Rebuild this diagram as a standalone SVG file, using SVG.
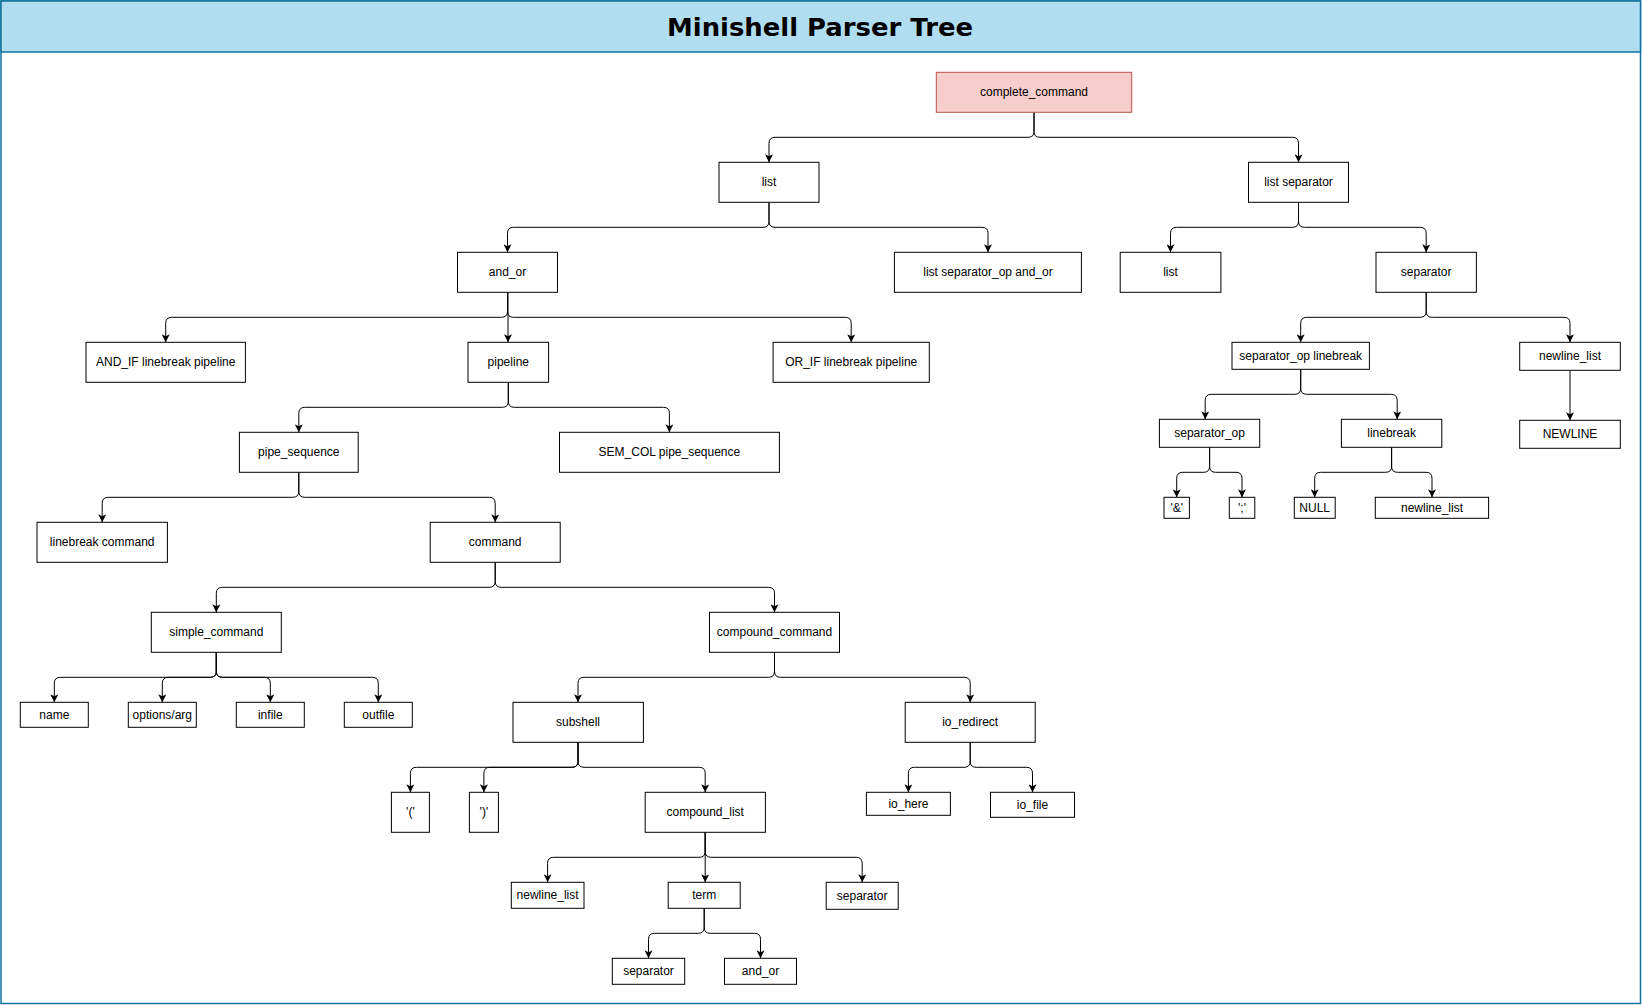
<svg xmlns="http://www.w3.org/2000/svg" width="1642" height="1005" viewBox="0 0 1642 1005">
<style>
.n rect{fill:#fff;stroke:#000;stroke-width:1}
.n text{font-family:"Liberation Sans",Arial,Helvetica,sans-serif;font-size:12px;fill:#000;text-anchor:middle}
#edges path{fill:none;stroke:#000;stroke-width:1;marker-end:url(#arr)}
</style>
<defs>
<marker id="arr" markerWidth="8" markerHeight="8" refX="8" refY="4" orient="auto" markerUnits="userSpaceOnUse">
<path d="M0,0 L8,4 L0,8 L2,4 Z" fill="#000"/>
</marker>
</defs>
<rect x="0" y="0" width="1642" height="1005" fill="#fff"/>
<g id="frame">
<rect x="1" y="1" width="1639.5" height="1002.5" fill="#fff" stroke="#10739e" stroke-width="1.5"/>
<rect x="1" y="1" width="1639.5" height="51" fill="#b1ddf0" stroke="#10739e" stroke-width="1.5"/>
<text x="820" y="36.3" font-family="'DejaVu Sans',Verdana,sans-serif" font-weight="bold" font-size="24" text-anchor="middle" textLength="306" lengthAdjust="spacingAndGlyphs" fill="#000">Minishell Parser Tree</text>
</g>
<g id="edges">
<path d="M1034 112.3 V131.3 Q1034 137.3 1028 137.3 H775 Q769 137.3 769 143.3 V162.3"/>
<path d="M1034 112.3 V131.3 Q1034 137.3 1040 137.3 H1292.5 Q1298.5 137.3 1298.5 143.3 V162.3"/>
<path d="M769 202.3 V221.3 Q769 227.3 763 227.3 H513.5 Q507.5 227.3 507.5 233.3 V252.3"/>
<path d="M769 202.3 V221.3 Q769 227.3 775 227.3 H982 Q988 227.3 988 233.3 V252.3"/>
<path d="M1298.5 202.3 V221.3 Q1298.5 227.3 1292.5 227.3 H1176.5 Q1170.5 227.3 1170.5 233.3 V252.3"/>
<path d="M1298.5 202.3 V221.3 Q1298.5 227.3 1304.5 227.3 H1420.2 Q1426.2 227.3 1426.2 233.3 V252.3"/>
<path d="M507.5 292.3 V311.3 Q507.5 317.3 501.5 317.3 H171.7 Q165.7 317.3 165.7 323.3 V342.3"/>
<path d="M508 292.3 V342.3"/>
<path d="M507.5 292.3 V311.3 Q507.5 317.3 513.5 317.3 H845.2 Q851.2 317.3 851.2 323.3 V342.3"/>
<path d="M1426.2 292.3 V311.3 Q1426.2 317.3 1420.2 317.3 H1306.7 Q1300.7 317.3 1300.7 323.3 V342.3"/>
<path d="M1426.2 292.3 V311.3 Q1426.2 317.3 1432.2 317.3 H1564 Q1570 317.3 1570 323.3 V342.3"/>
<path d="M508.3 382.3 V401.3 Q508.3 407.3 502.3 407.3 H304.8 Q298.8 407.3 298.8 413.3 V432.3"/>
<path d="M508.3 382.3 V401.3 Q508.3 407.3 514.3 407.3 H663.4 Q669.4 407.3 669.4 413.3 V432.3"/>
<path d="M1300.7 369.3 V388.3 Q1300.7 394.3 1294.7 394.3 H1211.2 Q1205.2 394.3 1205.2 400.3 V419.3"/>
<path d="M1300.7 369.3 V388.3 Q1300.7 394.3 1306.7 394.3 H1391.2 Q1397.2 394.3 1397.2 400.3 V419.3"/>
<path d="M1570 370.3 V420.3"/>
<path d="M298.8 472.3 V491.3 Q298.8 497.3 292.8 497.3 H108.2 Q102.2 497.3 102.2 503.3 V522.3"/>
<path d="M298.8 472.3 V491.3 Q298.8 497.3 304.8 497.3 H489.2 Q495.2 497.3 495.2 503.3 V522.3"/>
<path d="M1209.6 447.3 V466.3 Q1209.6 472.3 1203.6 472.3 H1182.7 Q1176.7 472.3 1176.7 478.3 V497.3"/>
<path d="M1209.6 447.3 V466.3 Q1209.6 472.3 1215.6 472.3 H1236 Q1242 472.3 1242 478.3 V497.3"/>
<path d="M1391.6 447.3 V466.3 Q1391.6 472.3 1385.6 472.3 H1320.7 Q1314.7 472.3 1314.7 478.3 V497.3"/>
<path d="M1391.6 447.3 V466.3 Q1391.6 472.3 1397.6 472.3 H1426 Q1432 472.3 1432 478.3 V497.3"/>
<path d="M495.2 562.3 V581.3 Q495.2 587.3 489.2 587.3 H222.3 Q216.3 587.3 216.3 593.3 V612.3"/>
<path d="M495.2 562.3 V581.3 Q495.2 587.3 501.2 587.3 H768.5 Q774.5 587.3 774.5 593.3 V612.3"/>
<path d="M216.3 652.3 V671.3 Q216.3 677.3 210.3 677.3 H60.3 Q54.3 677.3 54.3 683.3 V702.3"/>
<path d="M216.3 652.3 V671.3 Q216.3 677.3 210.3 677.3 H168.3 Q162.3 677.3 162.3 683.3 V702.3"/>
<path d="M216.3 652.3 V671.3 Q216.3 677.3 222.3 677.3 H264.3 Q270.3 677.3 270.3 683.3 V702.3"/>
<path d="M216.3 652.3 V671.3 Q216.3 677.3 222.3 677.3 H372.3 Q378.3 677.3 378.3 683.3 V702.3"/>
<path d="M774.5 652.3 V671.3 Q774.5 677.3 768.5 677.3 H584 Q578 677.3 578 683.3 V702.3"/>
<path d="M774.5 652.3 V671.3 Q774.5 677.3 780.5 677.3 H964.2 Q970.2 677.3 970.2 683.3 V702.3"/>
<path d="M578 742.3 V761.3 Q578 767.3 572 767.3 H416.4 Q410.4 767.3 410.4 773.3 V792.3"/>
<path d="M578 742.3 V761.3 Q578 767.3 572 767.3 H489.9 Q483.9 767.3 483.9 773.3 V792.3"/>
<path d="M578 742.3 V761.3 Q578 767.3 584 767.3 H699.2 Q705.2 767.3 705.2 773.3 V792.3"/>
<path d="M970.2 742.3 V761.3 Q970.2 767.3 964.2 767.3 H914.4 Q908.4 767.3 908.4 773.3 V792.3"/>
<path d="M970.2 742.3 V761.3 Q970.2 767.3 976.2 767.3 H1026.5 Q1032.5 767.3 1032.5 773.3 V792.3"/>
<path d="M705.2 832.3 V851.3 Q705.2 857.3 699.2 857.3 H553.6 Q547.6 857.3 547.6 863.3 V882.3"/>
<path d="M705.2 832.3 V882.3"/>
<path d="M705.2 832.3 V851.3 Q705.2 857.3 711.2 857.3 H856.2 Q862.2 857.3 862.2 863.3 V882.3"/>
<path d="M704.2 908.3 V927.3 Q704.2 933.3 698.2 933.3 H654.5 Q648.5 933.3 648.5 939.3 V958.3"/>
<path d="M704.2 908.3 V927.3 Q704.2 933.3 710.2 933.3 H754.5 Q760.5 933.3 760.5 939.3 V958.3"/>
</g>
<g id="complete_command" class="n"><rect x="936.3" y="72.3" width="195.4" height="40" style="fill:#f8cecc;stroke:#b85450"/><text x="1034" y="96.3">complete_command</text></g>
<g id="list" class="n"><rect x="719" y="162.3" width="100" height="40"/><text x="769" y="186.3">list</text></g>
<g id="list_separator" class="n"><rect x="1248.5" y="162.3" width="100" height="40"/><text x="1298.5" y="186.3">list separator</text></g>
<g id="and_or" class="n"><rect x="457.5" y="252.3" width="100" height="40"/><text x="507.5" y="276.3">and_or</text></g>
<g id="list_sepop_andor" class="n"><rect x="894.4" y="252.3" width="187" height="40"/><text x="988" y="276.3">list separator_op and_or</text></g>
<g id="list2" class="n"><rect x="1120.2" y="252.3" width="100.7" height="40"/><text x="1170.5" y="276.3">list</text></g>
<g id="separator" class="n"><rect x="1376" y="252.3" width="100.4" height="40"/><text x="1426.2" y="276.3">separator</text></g>
<g id="and_if" class="n"><rect x="86" y="342.3" width="159.4" height="40"/><text x="165.7" y="366.3">AND_IF linebreak pipeline</text></g>
<g id="pipeline" class="n"><rect x="468" y="342.3" width="80.6" height="40"/><text x="508.3" y="366.3">pipeline</text></g>
<g id="or_if" class="n"><rect x="773.1" y="342.3" width="156.2" height="40"/><text x="851.2" y="366.3">OR_IF linebreak pipeline</text></g>
<g id="sepop_linebreak" class="n"><rect x="1232" y="342.3" width="137.4" height="27"/><text x="1300.7" y="359.8">separator_op linebreak</text></g>
<g id="newline_list_r" class="n"><rect x="1519.7" y="342.3" width="100.6" height="28"/><text x="1570" y="360.3">newline_list</text></g>
<g id="pipe_sequence" class="n"><rect x="239.4" y="432.3" width="118.8" height="40"/><text x="298.8" y="456.3">pipe_sequence</text></g>
<g id="semcol" class="n"><rect x="559.5" y="432.3" width="219.9" height="40"/><text x="669.4" y="456.3">SEM_COL pipe_sequence</text></g>
<g id="separator_op" class="n"><rect x="1159.4" y="419.3" width="100.3" height="28"/><text x="1209.6" y="437.3">separator_op</text></g>
<g id="linebreak" class="n"><rect x="1341.4" y="419.3" width="100.4" height="28"/><text x="1391.6" y="437.3">linebreak</text></g>
<g id="NEWLINE" class="n"><rect x="1519.7" y="420.3" width="100.6" height="28"/><text x="1570" y="438.3">NEWLINE</text></g>
<g id="amp" class="n"><rect x="1164" y="497.3" width="25.4" height="21"/><text x="1176.7" y="511.8">'&amp;'</text></g>
<g id="semi" class="n"><rect x="1229.3" y="497.3" width="25.5" height="21"/><text x="1242" y="511.8">';'</text></g>
<g id="NULL" class="n"><rect x="1294.3" y="497.3" width="40.9" height="21"/><text x="1314.7" y="511.8">NULL</text></g>
<g id="newline_list_lb" class="n"><rect x="1375.3" y="497.3" width="113.3" height="21"/><text x="1432" y="511.8">newline_list</text></g>
<g id="linebreak_command" class="n"><rect x="37" y="522.3" width="130.4" height="40"/><text x="102.2" y="546.3">linebreak command</text></g>
<g id="command" class="n"><rect x="430.2" y="522.3" width="130" height="40"/><text x="495.2" y="546.3">command</text></g>
<g id="simple_command" class="n"><rect x="151.3" y="612.3" width="130" height="40"/><text x="216.3" y="636.3">simple_command</text></g>
<g id="compound_command" class="n"><rect x="709.5" y="612.3" width="130" height="40"/><text x="774.5" y="636.3">compound_command</text></g>
<g id="name" class="n"><rect x="20.3" y="702.3" width="68" height="25"/><text x="54.3" y="718.8">name</text></g>
<g id="options" class="n"><rect x="128.3" y="702.3" width="68" height="25"/><text x="162.3" y="718.8">options/arg</text></g>
<g id="infile" class="n"><rect x="236.3" y="702.3" width="68" height="25"/><text x="270.3" y="718.8">infile</text></g>
<g id="outfile" class="n"><rect x="344.3" y="702.3" width="68" height="25"/><text x="378.3" y="718.8">outfile</text></g>
<g id="subshell" class="n"><rect x="513" y="702.3" width="130.4" height="40"/><text x="578" y="726.3">subshell</text></g>
<g id="io_redirect" class="n"><rect x="905.2" y="702.3" width="130" height="40"/><text x="970.2" y="726.3">io_redirect</text></g>
<g id="lparen" class="n"><rect x="391.4" y="792.3" width="38" height="40"/><text x="410.4" y="816.3">'('</text></g>
<g id="rparen" class="n"><rect x="469.4" y="792.3" width="29" height="40"/><text x="483.9" y="816.3">')'</text></g>
<g id="compound_list" class="n"><rect x="645.2" y="792.3" width="120.2" height="40"/><text x="705.2" y="816.3">compound_list</text></g>
<g id="io_here" class="n"><rect x="866.4" y="792.3" width="84" height="23"/><text x="908.4" y="807.8">io_here</text></g>
<g id="io_file" class="n"><rect x="990.5" y="792.3" width="84" height="25"/><text x="1032.5" y="808.8">io_file</text></g>
<g id="newline_list_c" class="n"><rect x="511.3" y="882.3" width="72.7" height="26"/><text x="547.6" y="899.3">newline_list</text></g>
<g id="term" class="n"><rect x="668.2" y="882.3" width="72" height="26"/><text x="704.2" y="899.3">term</text></g>
<g id="separator_c" class="n"><rect x="826.2" y="882.3" width="72" height="27"/><text x="862.2" y="899.8">separator</text></g>
<g id="separator_t" class="n"><rect x="612.3" y="958.3" width="72.4" height="26"/><text x="648.5" y="975.3">separator</text></g>
<g id="and_or_t" class="n"><rect x="724.5" y="958.3" width="72" height="26"/><text x="760.5" y="975.3">and_or</text></g>
</svg>
